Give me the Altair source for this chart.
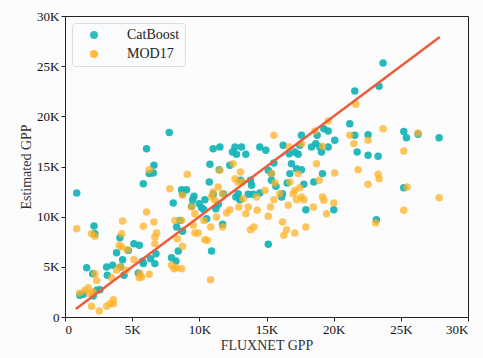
import altair as alt
import pandas as pd

# GPP values in thousands (K)
cb_x = [0.87, 2.16, 2.23, 1.61, 2.06, 1.10, 1.36, 2.10, 2.36, 2.60, 3.10, 3.55, 3.15, 3.84, 4.09,
        4.29, 4.39, 4.14, 4.71, 5.13, 5.53, 5.46, 5.83, 6.07, 5.78, 5.83, 6.37, 6.62, 6.57, 6.27,
        6.77, 6.69, 7.76, 8.06, 7.93, 8.26, 8.31, 8.43, 8.55, 8.75, 8.68, 9.05, 8.75, 9.42, 9.50,
        9.60, 9.99, 10.17, 10.34, 10.41, 10.54, 10.74, 10.79, 10.91, 11.03, 11.23, 11.03, 11.41,
        11.53, 11.48, 11.73, 11.78, 12.27, 12.47, 12.65, 12.77, 12.72, 12.89, 13.02, 13.07, 13.14,
        13.46, 13.64, 13.81, 13.89, 14.01, 14.50, 14.95, 14.50, 15.13, 15.13, 15.37, 15.55, 15.70,
        15.37, 16.24, 16.19, 16.12, 16.54, 16.69, 16.86, 16.74, 17.11, 17.23, 17.36, 17.48, 17.60,
        17.60, 17.78, 17.93, 18.35, 18.52, 18.67, 18.77, 18.97, 19.09, 19.17, 19.27, 19.59, 19.59,
        20.01, 20.08, 21.20, 21.57, 21.57, 21.75, 22.56, 22.56, 23.31, 23.38, 23.18, 23.68, 25.22,
        25.42, 25.22, 26.28, 27.85]
cb_y = [12.36, 9.07, 8.30, 4.92, 4.32, 2.16, 2.26, 2.10, 2.66, 2.72, 4.98, 5.15, 4.15, 6.41, 7.90,
        5.71, 4.15, 4.98, 6.64, 7.31, 7.14, 4.39, 13.29, 16.78, 5.55, 5.32, 5.81, 15.12, 14.35, 14.29,
        6.31, 5.32, 18.40, 11.36, 5.91, 5.58, 8.97, 6.58, 9.63, 8.54, 12.69, 12.69, 12.29, 11.03, 11.69,
        12.03, 11.30, 10.90, 10.70, 11.69, 9.80, 13.46, 15.22, 6.58, 16.78, 10.80, 12.23, 11.23,
        16.94, 14.68, 9.24, 12.29, 15.12, 16.45, 16.94, 16.21, 11.96, 12.29, 11.69, 13.62, 16.94,
        16.21, 12.23, 13.62, 13.12, 12.23, 16.94, 16.61, 12.36, 7.24, 14.62, 14.29, 15.35, 13.02,
        13.62, 17.11, 12.29, 11.96, 13.36, 16.28, 15.28, 14.29, 16.45, 14.78, 16.21, 17.11, 18.11,
        14.68, 13.22, 10.70, 16.94, 13.46, 17.28, 18.11, 16.94, 16.45, 14.29, 18.77, 18.54, 16.94,
        10.70, 17.61, 19.27, 22.52, 18.11, 16.45, 18.17, 16.11, 16.01, 22.99, 9.70, 25.32, 18.50,
        17.87, 12.89, 18.21, 17.87]

md_x = [0.87, 1.98, 2.23, 1.98, 2.55, 3.10, 3.35, 3.60, 3.60, 1.10, 1.49, 1.74, 2.23, 2.36, 1.81,
        2.10, 3.47, 3.84, 4.09, 4.29, 4.22, 4.04, 4.22, 4.64, 4.54, 5.13, 5.58, 5.53, 5.70, 5.83,
        6.07, 6.27, 6.27, 6.62, 6.69, 6.82, 6.69, 7.81, 7.93, 8.11, 8.31, 8.68, 8.18, 8.36, 8.68,
        8.75, 8.75, 9.10, 9.42, 9.55, 9.67, 9.67, 9.92, 10.34, 10.41, 10.59, 10.84, 10.84, 10.91,
        11.03, 11.16, 11.28, 11.41, 11.53, 11.73, 11.73, 12.03, 12.27, 12.52, 12.65, 12.89, 13.07,
        13.22, 12.94, 13.27, 13.46, 13.64, 13.81, 14.06, 14.26, 14.31, 14.88, 15.13, 15.37, 15.55,
        15.30, 15.55, 15.62, 15.99, 16.19, 16.29, 16.49, 16.62, 16.69, 16.74, 17.11, 16.98, 17.11,
        17.23, 17.36, 17.48, 17.60, 17.60, 17.78, 17.93, 18.48, 18.60, 18.72, 18.92, 19.17, 19.27,
        19.47, 19.59, 19.17, 20.01, 20.08, 21.20, 21.50, 21.65, 21.82, 22.56, 22.56, 23.13, 23.31,
        23.38, 23.68, 25.22, 25.22, 25.47, 26.28, 27.85]
md_y = [8.80, 8.30, 8.04, 1.06, 0.60, 1.06, 1.33, 1.73, 1.33, 2.39, 2.66, 2.92, 4.32, 3.65, 2.33,
        2.49, 3.92, 4.65, 4.98, 9.57, 8.30, 7.14, 6.98, 6.71, 4.65, 5.71, 4.32, 3.92, 3.99, 9.04,
        10.47, 14.68, 4.25, 9.47, 7.97, 8.37, 7.31, 12.79, 5.15, 4.82, 4.92, 4.82, 9.63, 7.81, 9.63,
        12.13, 7.04, 14.22, 10.96, 9.14, 10.30, 8.37, 8.37, 9.63, 7.71, 7.64, 8.97, 3.72, 11.96,
        12.46, 11.63, 9.97, 12.96, 14.62, 12.29, 8.97, 10.37, 10.70, 15.28, 13.79, 13.46, 14.45,
        13.46, 10.96, 11.79, 10.30, 10.96, 8.70, 8.97, 11.96, 10.63, 12.62, 10.03, 14.29, 18.11,
        10.96, 11.69, 13.36, 12.29, 9.47, 8.14, 8.70, 11.13, 16.94, 13.46, 8.37, 12.29, 12.62,
        11.69, 14.29, 12.89, 17.28, 11.96, 11.69, 8.97, 10.96, 18.54, 15.28, 13.62, 11.96, 11.63,
        10.30, 19.53, 17.01, 11.36, 14.35, 18.11, 17.28, 21.20, 14.68, 17.61, 13.22, 9.37, 14.22,
        13.79, 18.77, 16.55, 10.63, 12.96, 18.34, 11.89]

# 1:1 reference line end points
line_x = [0.8, 27.9]
line_y = [0.8, 27.9]

models = ["CatBoost", "MOD17"]
model_colors = ["#12b3b6", "#ffb020"]

pts = pd.concat([
    pd.DataFrame({"fluxnet": cb_x, "estimated": cb_y, "model": "CatBoost", "order": 0}),
    pd.DataFrame({"fluxnet": md_x, "estimated": md_y, "model": "MOD17", "order": 1}),
])
ref = pd.DataFrame({"fluxnet": line_x, "estimated": line_y})

FONT = "Liberation Serif"
label_k = "datum.value == 0 ? '0' : datum.value + 'K'"

x_scale = alt.Scale(domain=[0, 30], nice=False, zero=True)
y_scale = alt.Scale(domain=[0, 30], nice=False, zero=True)

axis_common = dict(
    grid=False, values=[0, 5, 10, 15, 20, 25, 30], labelExpr=label_k,
    labelFont=FONT, titleFont=FONT, labelFontSize=13, titleFontSize=14,
    titleFontWeight="normal", labelColor="#111111", titleColor="#333333",
    domainColor="#222222", tickColor="#222222", tickSize=4, labelPadding=2,
)

points = alt.Chart(pts).mark_circle(size=56, stroke=None).encode(
    x=alt.X("fluxnet:Q", scale=x_scale, title="FLUXNET GPP",
            axis=alt.Axis(titlePadding=2, **axis_common)),
    y=alt.Y("estimated:Q", scale=y_scale, title="Estimated GPP",
            axis=alt.Axis(titlePadding=3, **axis_common)),
    color=alt.Color(
        "model:N",
        scale=alt.Scale(domain=models, range=model_colors),
        legend=alt.Legend(
            title=None, orient="none", legendX=7, legendY=7,
            labelFont=FONT, labelFontSize=14, labelColor="#222222",
            symbolType="circle", symbolSize=64, symbolStrokeWidth=0,
            symbolOpacity=0.85, symbolOffset=10, labelOffset=26, rowPadding=5,
            padding=5, strokeColor="#d8dde3", fillColor="#fafbfc",
            cornerRadius=3, offset=0,
        ),
    ),
    opacity=alt.condition(alt.datum.model == "CatBoost", alt.value(0.92), alt.value(0.72)),
    order=alt.Order("order:Q"),
)

line = alt.Chart(ref).mark_line(color="#f05a3a", strokeWidth=2.4).encode(
    x=alt.X("fluxnet:Q", scale=x_scale),
    y=alt.Y("estimated:Q", scale=y_scale),
)

chart = alt.layer(points, line).properties(
    width=403, height=301,
    autosize=alt.AutoSizeParams(type="none"),
    padding={"left": 65, "top": 16, "right": 15, "bottom": 41},
    background="#fcfcfd",
).configure_view(stroke="#222222", strokeWidth=1)

chart.save("out.html", embed_options={"renderer": "svg", "actions": False})
